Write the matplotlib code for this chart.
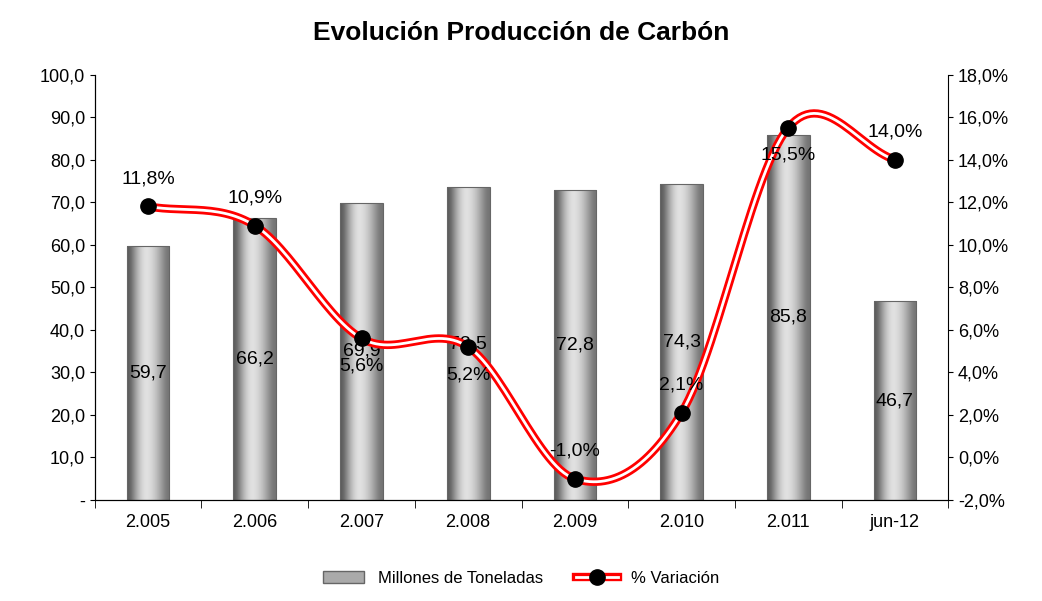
import numpy as np
import matplotlib
matplotlib.use("Agg")
import matplotlib.pyplot as plt
from matplotlib.patches import Rectangle
from matplotlib.lines import Line2D
import matplotlib.patheffects as pe

categories = ["2.005", "2.006", "2.007", "2.008", "2.009", "2.010", "2.011", "jun-12"]
production = [59.7, 66.2, 69.9, 73.5, 72.8, 74.3, 85.8, 46.7]
variation = [11.8, 10.9, 5.6, 5.2, -1.0, 2.1, 15.5, 14.0]
var_label_above = [True, True, False, False, True, True, False, True]

plt.rcParams['font.family'] = ['Liberation Sans', 'DejaVu Sans']

fig = plt.figure(figsize=(10.42, 6.01), dpi=100)
ax = fig.add_axes([0.091, 0.168, 0.819, 0.708])
ax2 = ax.twinx()

x = np.arange(len(categories))
w = 0.4
grad = np.array([[0.35, 0.6, 0.8, 0.9, 0.85, 0.75, 0.6, 0.45]])
for xi, v in zip(x, production):
    bar = ax.bar(xi, v, w, color='none', edgecolor='#666666', lw=0.8, zorder=2)[0]
    im = ax.imshow(grad, cmap='gray', vmin=0, vmax=1, aspect='auto',
                   extent=[xi - w / 2, xi + w / 2, 0, v], interpolation='bicubic', zorder=1)
    im.set_clip_path(bar)
    ax.text(xi, v / 2, f"{v:.1f}".replace('.', ','), ha='center', va='center', fontsize=14, zorder=5)

ax.set_xlim(-0.5, len(categories) - 0.5)
ax.set_ylim(0, 100)
ax.set_yticks(np.arange(0, 101, 10))
ax.set_yticklabels(['-'] + [f"{t:.1f}".replace('.', ',') for t in np.arange(10, 101, 10)])
ax.set_xticks(x)
ax.set_xticklabels(categories)
ax.set_xticks(np.arange(-0.5, len(categories)), minor=True)
ax.tick_params(axis='x', which='major', length=0, pad=10)
ax.tick_params(axis='x', which='minor', length=6)
ax.tick_params(labelsize=13)
for s in ['top', 'right']:
    ax.spines[s].set_visible(False)

# smooth curve (Catmull-Rom) through the variation points
px, py = x.astype(float), np.array(variation)
P = np.column_stack([px, py])
P = np.vstack([P[0] * 2 - P[1], P, P[-1] * 2 - P[-2]])
cx, cy = [], []
t = np.linspace(0, 1, 30)
for i in range(1, len(P) - 2):
    p0, p1, p2, p3 = P[i - 1], P[i], P[i + 1], P[i + 2]
    seg = 0.5 * ((2 * p1)[None] + np.outer(t, -p0 + p2) + np.outer(t ** 2, 2 * p0 - 5 * p1 + 4 * p2 - p3)
                 + np.outer(t ** 3, -p0 + 3 * p1 - 3 * p2 + p3))
    cx.extend(seg[:, 0]); cy.extend(seg[:, 1])
red_fx = [pe.Stroke(linewidth=6, foreground='red'), pe.Normal()]
ax2.plot(cx, cy, color='white', lw=2, zorder=3, path_effects=red_fx)
ax2.plot(px, py, 'o', color='black', ms=11, zorder=4)
for xi, v, up in zip(px, py, var_label_above):
    ax2.text(xi, v + (1.3 if up else -1.3), f"{v:.1f}%".replace('.', ','), ha='center',
             va='center', fontsize=14, zorder=6)
ax2.set_ylim(-2, 18)
ax2.set_yticks(np.arange(-2, 19, 2))
ax2.set_yticklabels([f"{t:.1f}%".replace('.', ',') for t in np.arange(-2, 19, 2)])
ax2.tick_params(labelsize=13)
ax2.spines['top'].set_visible(False)

fig.suptitle("Evolución Producción de Carbón", fontsize=19, fontweight='bold', y=0.965)

h1 = Rectangle((0, 0), 1, 1, facecolor='#aaaaaa', edgecolor='#666666')
h2a = Line2D([], [], color='white', lw=2, path_effects=red_fx)
h2b = Line2D([], [], ls='none', marker='o', mfc='black', mec='black', ms=11)
fig.legend([h1, (h2a, h2b)], ["Millones de Toneladas", "% Variación"], loc='lower center',
           ncol=2, frameon=False, fontsize=12, bbox_to_anchor=(0.5, 0.0), handlelength=2.5)

fig.savefig("out.png", dpi=100)
